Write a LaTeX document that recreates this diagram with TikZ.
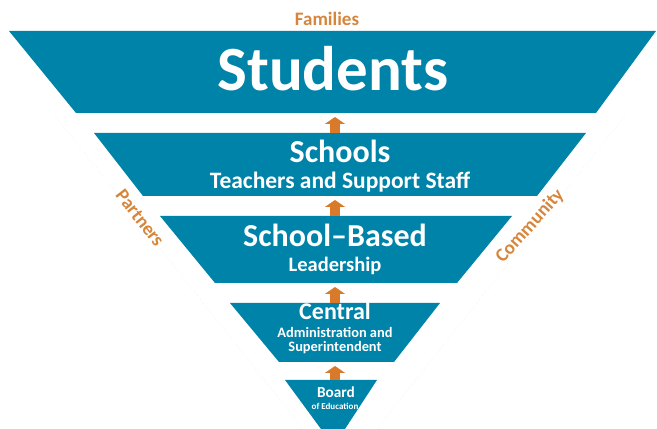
\documentclass[tikz,border=0pt]{standalone}
\usepackage{fontspec}
\setmainfont{Carlito}
\usepackage{tikz}
\usetikzlibrary{arrows.meta}
\definecolor{bandteal}{RGB}{0,131,168}
\definecolor{tagorange}{RGB}{214,134,60}
\definecolor{uparrow}{RGB}{217,122,42}

\begin{document}
\begin{tikzpicture}[x=1pt,y=1pt,
        band/.style={fill=bandteal},
        tag/.style={text=tagorange, inner sep=0pt, font=\fontsize{19}{19}\selectfont\bfseries},
        lbl/.style={text=white, anchor=base, inner sep=0pt},
        up/.style={draw=uparrow, line width=10pt, -{Triangle[width=20pt,length=7pt]}, shorten >=4pt}]
            \useasboundingbox (0,0) rectangle (657,429);
            \draw[black!12, dotted] (53,316) -- (303,0);
            \draw[black!12, dotted] (627,316) -- (377,0);
            \fill[band] (9,398) -- (656,398) -- (596,316) -- (76,316) -- cycle;
            \fill[band] (94,296) -- (586,296) -- (537,233) -- (143,233) -- cycle;
            \fill[band] (160,213) -- (512,213) -- (457,146) -- (215,146) -- cycle;
            \fill[band] (230,126) -- (440,126) -- (394,67) -- (279,67) -- cycle;
            \fill[band] (285,49) -- (377,49) -- (345,0) -- (321,0) -- cycle;
            \coordinate (students-bot) at (335,316);
            \coordinate (schools-top) at (335,296);
            \coordinate (schools-bot) at (335,233);
            \coordinate (based-top) at (335,213);
            \coordinate (based-bot) at (335,146);
            \coordinate (central-top) at (335,126);
            \coordinate (central-bot) at (335,67);
            \coordinate (board-top) at (335,49);
            \draw[up] (schools-top) -- (students-bot);
            \draw[up] (based-top) -- (schools-bot);
            \draw[up] (central-top) -- (based-bot);
            \draw[up] (board-top) -- (central-bot);
            \node[lbl, font=\fontsize{63}{63}\selectfont\bfseries] (students) at (333,338) {Students};
            \node[lbl, font=\fontsize{32}{32}\selectfont\bfseries] (schools) at (340,266) {Schools};
            \node[lbl, font=\fontsize{23.5}{24}\selectfont\bfseries] (staff) at (340,240) {Teachers and Support Staff};
            \node[lbl, font=\fontsize{32}{32}\selectfont\bfseries] (based) at (335,182) {School--Based};
            \node[lbl, font=\fontsize{20.5}{21}\selectfont\bfseries] (leadership) at (335,157) {Leadership};
            \node[lbl, font=\fontsize{24}{24}\selectfont\bfseries] (central) at (335,109) {Central};
            \node[lbl, font=\fontsize{14.4}{15}\selectfont\bfseries] (admin) at (335,91) {Administration and};
            \node[lbl, font=\fontsize{14.4}{15}\selectfont\bfseries] (super) at (335,77) {Superintendent};
            \node[lbl, font=\fontsize{15.3}{16}\selectfont\bfseries] (board) at (336,31) {Board};
            \node[lbl, font=\fontsize{9}{9}\selectfont\bfseries] (education) at (335,19) {of Education};
            \node[tag, anchor=base] (families) at (327,403) {Families};
            \node[tag, rotate=-52] (partners) at (140,211) {Partners};
            \node[tag, rotate=48] (community) at (530,203) {Community};
\end{tikzpicture}
\end{document}
